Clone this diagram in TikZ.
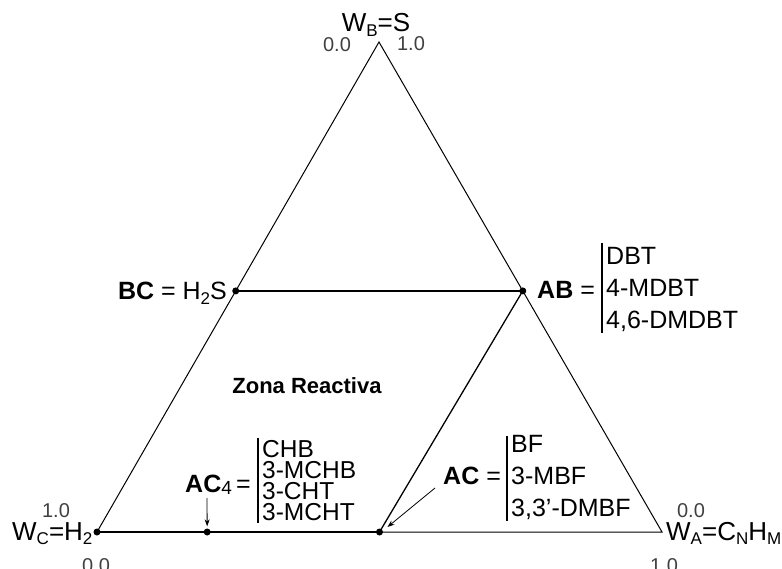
\documentclass[tikz,border=0pt]{standalone}
\usepackage{fontspec}
\setmainfont{Liberation Sans}
\usetikzlibrary{calc,arrows.meta}
\newcommand{\lsub}[1]{\raisebox{-0.35ex}{\fontsize{17}{17}\selectfont #1}}
\begin{document}
\begin{tikzpicture}[x=1pt,y=-1pt,
  txt/.style={inner sep=0pt, font=\fontsize{25}{25}\selectfont},
  tight/.style={inner sep=0pt, font=\fontsize{24.5}{21}\selectfont},
  vlabel/.style={inner sep=0pt, font=\fontsize{26}{26}\selectfont},
  tick/.style={inner sep=0pt, text=black!75, font=\fontsize{20}{20}\selectfont},
  thinline/.style={line width=1pt},
  thickline/.style={line width=2.6pt},
  medline/.style={line width=1.3pt},
  barline/.style={line width=2pt},
  dot/.style={circle, fill=black, inner sep=0pt, minimum size=7pt},
  pointer/.style={line width=0.8pt, -{Stealth[length=7pt,width=5pt]}}]
\useasboundingbox (0,0) rectangle (782,569);
% vertices
\coordinate (B) at (379,42);
\coordinate (C) at (97,532);
\coordinate (A) at (662,532);
\coordinate (BCp) at ($(C)!0.492!(B)$);
\coordinate (ABp) at ($(A)!0.492!(B)$);
\coordinate (ACp) at ($(C)!0.5!(A)$);
\coordinate (AC4p) at ($(C)!0.195!(A)$);
% triangle
\draw[thinline] (C) -- (B) -- (A) -- (ACp);
\draw[thickline] (C) -- (ACp);
\draw[thickline] (BCp) -- (ABp);
\draw[medline] (ACp) -- (ABp);
% dots
\node[dot] (dC) at (C) {};
\node[dot] (dBC) at (BCp) {};
\node[dot] (dAB) at (ABp) {};
\node[dot] (dAC) at (ACp) {};
\node[dot] (dAC4) at (AC4p) {};
% vertex labels
\node[vlabel, anchor=base] (wb) at (376,32) {W\lsub{B}=S};
\node[tick, anchor=base] (t1) at (337,52) {0.0};
\node[tick, anchor=base] (t2) at (411,51) {1.0};
\node[vlabel, anchor=base west] (wc) at (12,540) {W\lsub{C}=H\lsub{2}};
\node[tick, anchor=base] (t3) at (56,517) {1.0};
\node[tick, anchor=base] (t4) at (96,572) {0.0};
\node[vlabel, anchor=base west] (wa) at (666,540) {W\lsub{A}=C\lsub{N}H\lsub{M}};
\node[tick, anchor=base] (t5) at (691,517) {0.0};
\node[tick, anchor=base] (t6) at (664,572) {1.0};
% BC
\node[txt, anchor=base east] (bc) at (227,300) {\textbf{BC} = H\lsub{2}S};
% AB
\node[txt, anchor=base west] (ab) at (537,299) {\textbf{AB} =};
\draw[barline] (602,243) -- (602,333);
\node[txt, anchor=base west] (ab1) at (606,265) {DBT};
\node[txt, anchor=base west] (ab2) at (606,297) {4-MDBT};
\node[txt, anchor=base west] (ab3) at (606,329) {4,6-DMDBT};
% zona
\node[txt, anchor=base, font=\fontsize{22}{22}\selectfont\bfseries] (zona) at (307,393) {Zona Reactiva};
% AC4
\draw[barline] (258,438) -- (258,523);
\node[tight, anchor=base west] (c1) at (262,457) {CHB};
\node[tight, anchor=base west] (c2) at (262,478) {3-MCHB};
\node[tight, anchor=base west] (c3) at (262,499) {3-CHT};
\node[tight, anchor=base west] (c4) at (262,520) {3-MCHT};
\node[txt, anchor=base west] (ac4) at (185,492) {\textbf{AC}\raisebox{-0.2ex}{\fontsize{19}{19}\selectfont 4}\,=};
\coordinate (ac4s) at (207,498);
\draw[pointer] (ac4s) -- ($(dAC4.north)+(0,-2)$);
% AC
\draw[barline] (507,436) -- (507,521);
\node[txt, anchor=base west] (a1) at (511,452) {BF};
\node[txt, anchor=base west] (a2) at (511,484) {3-MBF};
\node[txt, anchor=base west] (a3) at (511,516) {3,3'-DMBF};
\node[txt, anchor=base west] (ac) at (443,484) {\textbf{AC} =};
\coordinate (acs) at (435,488);
\draw[pointer] (acs) -- ($(dAC)+(8,-5)$);
\end{tikzpicture}
\end{document}
